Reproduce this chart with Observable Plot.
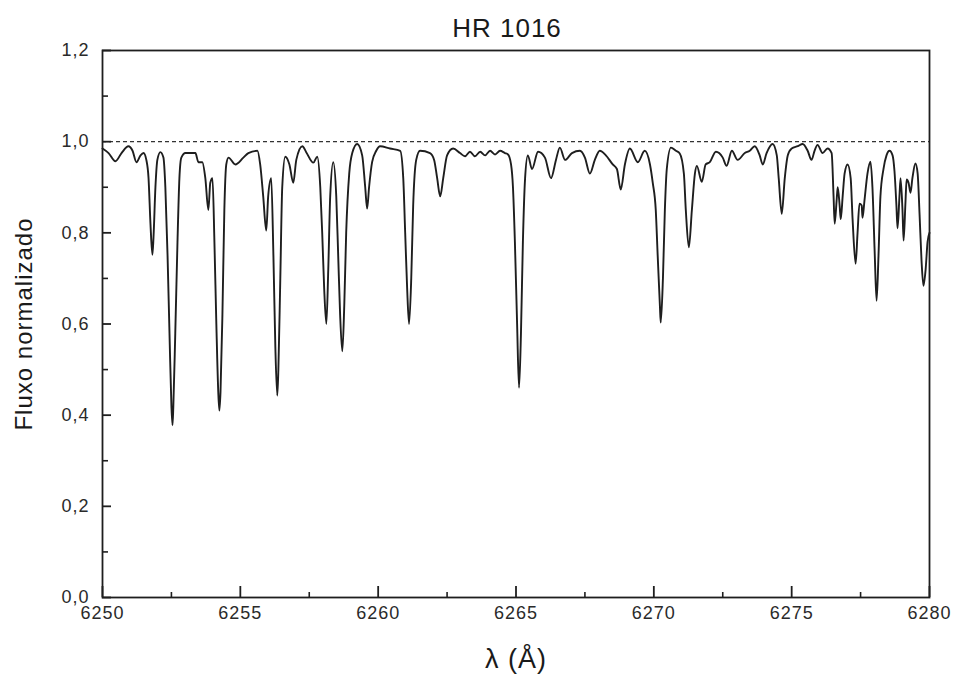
<!DOCTYPE html>
<html>
<head>
<meta charset="utf-8">
<script src="https://cdn.jsdelivr.net/npm/d3@7"></script>
<script src="https://cdn.jsdelivr.net/npm/@observablehq/plot@0.6"></script>
<style>
  html, body { margin: 0; padding: 0; background: #fff; }
  body { width: 957px; height: 679px; overflow: hidden; font-family: "Liberation Sans", Arial, sans-serif; }
  #title { height: 34px; box-sizing: border-box; padding-left: 57px; text-align: center;
           font-size: 26px; line-height: 56px; color: #1a1a1a; letter-spacing: 1px; overflow: visible; }
  svg { display: block; }
</style>
</head>
<body>
<div id="title">HR 1016</div>
<div id="chart"></div>
<script>
// Wavelength (Å) and normalized flux
const wavelength = [
  6250.00, 6250.22, 6250.47, 6250.69, 6250.94, 6251.09, 6251.23, 6251.38, 6251.49, 6251.59,
  6251.67, 6251.74, 6251.81, 6251.85, 6251.92, 6251.99, 6252.10, 6252.21, 6252.28, 6252.36,
  6252.43, 6252.50, 6252.54, 6252.57, 6252.64, 6252.72, 6252.79, 6252.86, 6253.01, 6253.37,
  6253.48, 6253.62, 6253.73, 6253.84, 6253.91, 6253.99, 6254.06, 6254.13, 6254.20, 6254.24,
  6254.28, 6254.35, 6254.42, 6254.49, 6254.57, 6254.82, 6255.11, 6255.29, 6255.62, 6255.72,
  6255.83, 6255.94, 6256.01, 6256.12, 6256.20, 6256.27, 6256.34, 6256.38, 6256.45, 6256.52,
  6256.63, 6256.78, 6256.92, 6257.03, 6257.25, 6257.39, 6257.65, 6257.79, 6257.90, 6257.97,
  6258.04, 6258.12, 6258.19, 6258.26, 6258.37, 6258.48, 6258.55, 6258.62, 6258.70, 6258.77,
  6258.84, 6258.95, 6259.06, 6259.24, 6259.42, 6259.53, 6259.60, 6259.67, 6259.78, 6259.93,
  6260.07, 6260.43, 6260.80, 6260.91, 6260.98, 6261.05, 6261.12, 6261.20, 6261.27, 6261.38,
  6261.52, 6261.88, 6262.03, 6262.14, 6262.25, 6262.36, 6262.50, 6262.72, 6262.97, 6263.15,
  6263.33, 6263.51, 6263.70, 6263.88, 6264.06, 6264.24, 6264.42, 6264.60, 6264.71, 6264.82,
  6264.89, 6264.96, 6265.04, 6265.11, 6265.18, 6265.25, 6265.33, 6265.43, 6265.58, 6265.80,
  6266.05, 6266.27, 6266.45, 6266.59, 6266.78, 6267.03, 6267.32, 6267.50, 6267.68, 6267.86,
  6268.04, 6268.26, 6268.51, 6268.66, 6268.80, 6268.95, 6269.13, 6269.42, 6269.67, 6269.86,
  6269.96, 6270.07, 6270.14, 6270.22, 6270.25, 6270.33, 6270.40, 6270.47, 6270.62, 6270.80,
  6270.94, 6271.09, 6271.16, 6271.27, 6271.38, 6271.49, 6271.56, 6271.74, 6271.88, 6272.03,
  6272.25, 6272.50, 6272.64, 6272.83, 6273.04, 6273.30, 6273.48, 6273.66, 6273.84, 6273.95,
  6274.09, 6274.31, 6274.46, 6274.53, 6274.64, 6274.75, 6274.86, 6275.00, 6275.22, 6275.40,
  6275.58, 6275.72, 6275.83, 6275.94, 6276.12, 6276.30, 6276.45, 6276.52, 6276.56, 6276.63,
  6276.67, 6276.74, 6276.78, 6276.85, 6276.92, 6277.03, 6277.14, 6277.21, 6277.32, 6277.39,
  6277.46, 6277.54, 6277.57, 6277.64, 6277.75, 6277.86, 6277.93, 6278.01, 6278.08, 6278.15,
  6278.22, 6278.33, 6278.44, 6278.55, 6278.66, 6278.73, 6278.80, 6278.84, 6278.91, 6278.95,
  6279.02, 6279.06, 6279.13, 6279.17, 6279.24, 6279.31, 6279.38, 6279.49, 6279.57, 6279.64,
  6279.71, 6279.78, 6279.86, 6279.93, 6280.00
];
const flux = [
  0.985, 0.975, 0.957, 0.975, 0.990, 0.980, 0.955, 0.970, 0.975, 0.960,
  0.920, 0.820, 0.752, 0.790, 0.900, 0.960, 0.977, 0.965, 0.900, 0.750,
  0.580, 0.420, 0.378, 0.420, 0.580, 0.780, 0.920, 0.965, 0.975, 0.975,
  0.955, 0.955, 0.920, 0.850, 0.910, 0.920, 0.780, 0.600, 0.450, 0.410,
  0.450, 0.620, 0.850, 0.950, 0.965, 0.950, 0.965, 0.975, 0.980, 0.950,
  0.880, 0.805, 0.880, 0.920, 0.750, 0.550, 0.443, 0.500, 0.700, 0.900,
  0.967, 0.950, 0.910, 0.960, 0.990, 0.977, 0.954, 0.967, 0.900, 0.800,
  0.680, 0.600, 0.720, 0.880, 0.955, 0.880, 0.750, 0.620, 0.540, 0.640,
  0.800, 0.930, 0.975, 0.995, 0.970, 0.900, 0.853, 0.900, 0.955, 0.980,
  0.990, 0.985, 0.980, 0.920, 0.800, 0.680, 0.600, 0.700, 0.860, 0.960,
  0.980, 0.975, 0.960, 0.920, 0.880, 0.920, 0.970, 0.985, 0.975, 0.968,
  0.978, 0.968, 0.978, 0.970, 0.980, 0.972, 0.980, 0.975, 0.972, 0.950,
  0.900, 0.780, 0.600, 0.460, 0.580, 0.780, 0.920, 0.970, 0.940, 0.978,
  0.965, 0.920, 0.960, 0.987, 0.960, 0.975, 0.980, 0.965, 0.930, 0.960,
  0.980, 0.970, 0.950, 0.940, 0.895, 0.950, 0.985, 0.955, 0.980, 0.950,
  0.910, 0.850, 0.750, 0.640, 0.603, 0.700, 0.850, 0.940, 0.987, 0.980,
  0.974, 0.930, 0.850, 0.768, 0.850, 0.930, 0.947, 0.912, 0.950, 0.955,
  0.978, 0.965, 0.947, 0.980, 0.960, 0.975, 0.980, 0.990, 0.970, 0.950,
  0.975, 0.995, 0.970, 0.920, 0.842, 0.920, 0.970, 0.985, 0.990, 0.995,
  0.980, 0.960, 0.980, 0.993, 0.975, 0.985, 0.975, 0.880, 0.820, 0.870,
  0.900, 0.860, 0.830, 0.880, 0.930, 0.950, 0.920, 0.830, 0.732, 0.800,
  0.864, 0.860, 0.833, 0.870, 0.930, 0.956, 0.900, 0.760, 0.651, 0.750,
  0.880, 0.940, 0.970, 0.980, 0.970, 0.935, 0.860, 0.810, 0.880, 0.920,
  0.850, 0.783, 0.870, 0.917, 0.910, 0.888, 0.920, 0.952, 0.930, 0.840,
  0.740, 0.684, 0.720, 0.780, 0.800
];
const continuum = [1.0];
const xMajorTicks = [6250, 6255, 6260, 6265, 6270, 6275, 6280];
const xMinorTicks = [6252.5, 6257.5, 6262.5, 6267.5, 6272.5, 6277.5];
const yMajorTicks = [0.0, 0.2, 0.4, 0.6, 0.8, 1.0, 1.2];
const yMinorTicks = [0.1, 0.3, 0.5, 0.7, 0.9, 1.1];
const xLabel = "λ (Å)";
const yLabel = "Fluxo normalizado";

const spectrum = wavelength.map((w, i) => ({wl: w, flux: flux[i]}));
const fmtY = d => d.toFixed(1).replace(".", ",");
const ink = "#1e1e1e";
const textInk = "#2a2a2a";

const W = 957, H = 645, mL = 102, mR = 28, mT = 16, mB = 82;
const frameW = W - mL - mR, frameH = H - mT - mB;

const chart = Plot.plot({
  width: W,
  height: H,
  marginLeft: mL,
  marginRight: mR,
  marginTop: mT,
  marginBottom: mB,
  style: {fontFamily: "'Liberation Sans', Arial, sans-serif", color: textInk, background: "#fff", letterSpacing: "1px"},
  x: {domain: [6250, 6280]},
  y: {domain: [0, 1.2]},
  marks: [
    Plot.ruleY(continuum, {stroke: "#333", strokeWidth: 1.2, strokeDasharray: "4,3"}),
    Plot.line(spectrum, {x: "wl", y: "flux", stroke: ink, strokeWidth: 1.9, curve: "monotone-x"}),
    Plot.frame({stroke: ink, strokeWidth: 1.8}),
    // inward tick marks
    Plot.tickX(xMajorTicks, {x: d => d, insetTop: frameH - 11, stroke: ink, strokeWidth: 1.8}),
    Plot.tickX(xMinorTicks, {x: d => d, insetTop: frameH - 5, stroke: ink, strokeWidth: 1.6}),
    Plot.tickY(yMajorTicks, {y: d => d, insetRight: frameW - 9, stroke: ink, strokeWidth: 1.8}),
    Plot.tickY(yMinorTicks, {y: d => d, insetRight: frameW - 6, stroke: ink, strokeWidth: 1.6}),
    // tick labels
    Plot.axisX({ticks: xMajorTicks, tickSize: 0, tickPadding: 9, tickFormat: d => String(d), label: null, fontSize: 18, fill: textInk}),
    Plot.axisY({ticks: yMajorTicks, tickSize: 0, tickPadding: 13, tickFormat: fmtY, label: null, fontSize: 18, fill: textInk}),
    // axis titles
    Plot.text([xLabel], {frameAnchor: "bottom", dy: 70, fontSize: 27, fill: "#1a1a1a", text: d => d}),
    Plot.text([yLabel], {frameAnchor: "left", dx: -78, rotate: -90, textAnchor: "middle", fontSize: 24, fill: "#1a1a1a", text: d => d})
  ]
});
document.getElementById("chart").appendChild(chart);
</script>
</body>
</html>
